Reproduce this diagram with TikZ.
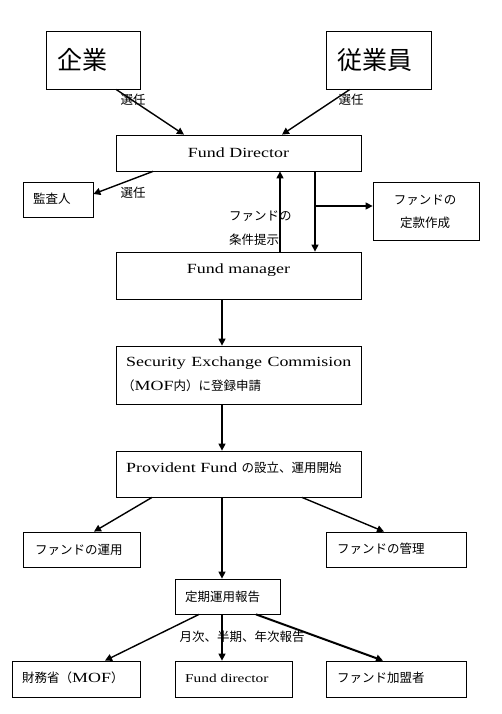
\documentclass[tikz,border=0pt]{standalone}
\usepackage{fontspec}
\setmainfont{Liberation Serif}[FakeStretch=1.28]
\newfontfamily\jp{Noto Sans CJK JP}
\usetikzlibrary{arrows.meta,calc}
\newcommand\J[1]{{\jp\fontsize{12.5}{15}\selectfont #1}}
\newcommand\mkbox[5]{\node[box,minimum width={(#4-#2)*1pt},minimum height={(#5-#3)*1pt}] (#1) at ({(#2+#4)/2},{(#3+#5)/2}) {};}
\begin{document}
\begin{tikzpicture}[x=1pt,y=-1pt,
  box/.style={draw,line width=0.8pt,inner sep=0pt},
  arr/.style={line width=1.4pt,-{Triangle[length=7pt,width=7pt]}},
  lbl/.style={inner sep=0pt,font=\fontsize{14}{16}\selectfont},
  jl/.style={inner sep=0pt,font=\jp\fontsize{12.5}{15}\selectfont},
  big/.style={inner sep=0pt,font=\jp\fontsize{25}{28}\selectfont},
]
\useasboundingbox[fill=white] (0,0) rectangle (502,714);
% boxes
\mkbox{kigyo}{46}{31}{140}{89}
\mkbox{jugyoin}{326}{31}{431}{89}
\mkbox{fd}{116}{135}{361}{171}
\mkbox{kansa}{23}{182}{93}{217}
\mkbox{teikan}{373}{182}{479}{240}
\mkbox{fm}{116}{252}{361}{299}
\mkbox{sec}{116}{346}{361}{404}
\mkbox{pf}{116}{451}{361}{497}
\mkbox{unyo}{23}{532}{140}{567}
\mkbox{kanri}{326}{532}{466}{567}
\mkbox{teiki}{175}{579}{280}{614}
\mkbox{mof}{12}{661}{140}{697}
\mkbox{fdb}{175}{661}{292}{697}
\mkbox{kanyu}{326}{661}{466}{697}
% texts in boxes
\node[big,anchor=west] (t1) at (57,60) {企業};
\node[big,anchor=west] (t2) at (337,60) {従業員};
\node[lbl] (t3) at (238.5,153) {Fund Director};
\node[jl,anchor=west] (t4) at (33,199) {監査人};
\node[jl] (t5) at (425,200) {ファンドの};
\node[jl] (t6) at (425,223) {定款作成};
\node[lbl] (t7) at (238.5,270) {Fund manager};
\node[lbl,anchor=west] (t8) at (126,363) {\makebox[225pt][l]{Security\hfill Exchange\hfill Commision}};
\node[lbl,anchor=west] (t9) at (122,386) {\J{（}MOF\J{内）に登録申請}};
\node[lbl,anchor=west] (t10) at (126,468) {Provident Fund \J{の設立、運用開始}};
\node[jl,anchor=west] (t11) at (35,550) {ファンドの運用};
\node[jl,anchor=west] (t12) at (337,549) {ファンドの管理};
\node[jl,anchor=west] (t13) at (185,597) {定期運用報告};
\node[lbl,anchor=west] (t14) at (22,678) {\J{財務省（}MOF\J{）}};
\node[lbl,anchor=west,font=\fontsize{12}{14}\selectfont] (t15) at (185,678) {Fund director};
\node[jl,anchor=west] (t16) at (337,678) {ファンド加盟者};
% connector labels
\node[jl] (s1) at (133,100) {選任};
\node[jl] (s2) at (351,100) {選任};
\node[jl] (s3) at (133,193) {選任};
\node[jl,anchor=west] (c1) at (229,216) {ファンドの};
\node[jl,anchor=west] (c2) at (229,240) {条件提示};
\node[jl] (m1) at (242,637) {月次、半期、年次報告};
% connectors
\draw[arr] ([xshift=23pt]kigyo.south) -- ([xshift=-54.5pt]fd.north);
\draw[arr] ([xshift=-28.5pt]jugyoin.south) -- ([xshift=43.5pt]fd.north);
\draw[arr] ([xshift=-85.5pt]fd.south) -- ([yshift=5.5pt]kansa.east);
\draw[arr] ([xshift=41.5pt]fm.north) -- ([xshift=41.5pt]fd.south);
\draw[arr] ([xshift=76.5pt]fd.south) coordinate (dtop) -- ([xshift=76.5pt]fm.north);
\coordinate (tw) at ([yshift=5pt]teikan.west);
\draw[arr] (dtop |- tw) -- (tw);
\draw[arr] ([xshift=-16.5pt]fm.south) -- ([xshift=-16.5pt]sec.north);
\draw[arr] ([xshift=-16.5pt]sec.south) -- ([xshift=-16.5pt]pf.north);
\draw[arr] ([xshift=-86.5pt]pf.south) -- ([xshift=12.5pt]unyo.north);
\draw[arr] ([xshift=63.5pt]pf.south) -- ([xshift=-12pt]kanri.north);
\draw[arr] ([xshift=-16.5pt]pf.south) -- ([xshift=-5.5pt]teiki.north);
\draw[arr] ([xshift=-28.5pt]teiki.south) -- ([xshift=29pt]mof.north);
\draw[arr] ([xshift=-5.5pt]teiki.south) -- ([xshift=-11.5pt]fdb.north);
\draw[arr,line width=2pt] ([xshift=28.5pt]teiki.south) -- ([xshift=-13pt]kanyu.north);
\end{tikzpicture}
\end{document}
